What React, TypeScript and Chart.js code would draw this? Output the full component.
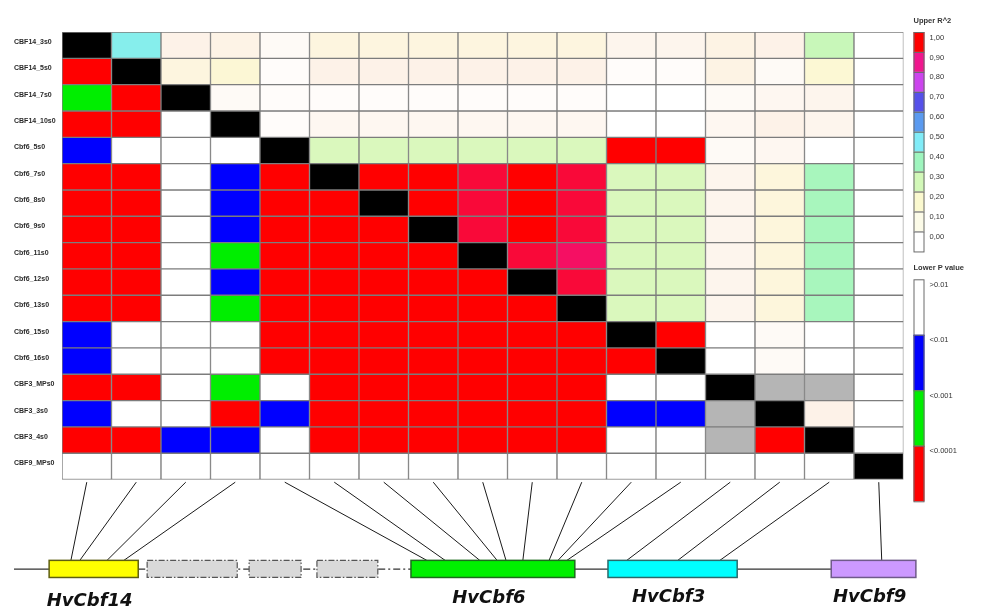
import React, { useEffect, useRef } from 'react';
import { Chart, registerables } from 'chart.js';

Chart.register(...registerables);

// ---------- DATA ----------
const MARKERS = [
  'CBF14_3s0', 'CBF14_5s0', 'CBF14_7s0', 'CBF14_10s0',
  'Cbf6_5s0', 'Cbf6_7s0', 'Cbf6_8s0', 'Cbf6_9s0', 'Cbf6_11s0', 'Cbf6_12s0', 'Cbf6_13s0', 'Cbf6_15s0', 'Cbf6_16s0',
  'CBF3_MPs0', 'CBF3_3s0', 'CBF3_4s0', 'CBF9_MPs0',
];

// Upper triangle: R^2 of row i with columns i+1 .. 16 (null = not available)
const R2_UPPER: (number | null)[][] = [
  [0.48, 0.05, 0.06, 0.02, 0.1, 0.1, 0.1, 0.1, 0.1, 0.1, 0.04, 0.04, 0.07, 0.05, 0.32, 0],
  [0.1, 0.16, 0.01, 0.05, 0.05, 0.05, 0.05, 0.05, 0.05, 0.01, 0.01, 0.07, 0.02, 0.17, 0],
  [0.02, 0.01, 0.01, 0.01, 0.01, 0.01, 0.01, 0.01, 0, 0, 0.02, 0.03, 0.04, 0],
  [0.01, 0.03, 0.03, 0.03, 0.03, 0.03, 0.03, 0, 0, 0.03, 0.05, 0.04, 0],
  [0.28, 0.28, 0.28, 0.28, 0.28, 0.28, 1, 1, 0.02, 0.03, 0, 0],
  [1, 1, 0.96, 1, 0.96, 0.28, 0.28, 0.04, 0.12, 0.38, 0],
  [1, 0.96, 1, 0.96, 0.28, 0.28, 0.04, 0.12, 0.38, 0],
  [0.96, 1, 0.96, 0.28, 0.28, 0.04, 0.12, 0.38, 0],
  [0.96, 0.93, 0.28, 0.28, 0.04, 0.12, 0.38, 0],
  [0.96, 0.28, 0.28, 0.04, 0.12, 0.38, 0],
  [0.28, 0.28, 0.04, 0.12, 0.38, 0],
  [1, 0, 0.02, 0, 0],
  [0, 0.02, 0, 0],
  [null, null, 0],
  [0.05, 0],
  [0],
  [],
];

// Lower triangle: P-value class of row i with columns 0 .. i-1
// 0 = >0.01, 1 = <0.01, 2 = <0.001, 3 = <0.0001, null = not available
const P_LOWER: (number | null)[][] = [
  [],
  [3],
  [2, 3],
  [3, 3, 0],
  [1, 0, 0, 0],
  [3, 3, 0, 1, 3],
  [3, 3, 0, 1, 3, 3],
  [3, 3, 0, 1, 3, 3, 3],
  [3, 3, 0, 2, 3, 3, 3, 3],
  [3, 3, 0, 1, 3, 3, 3, 3, 3],
  [3, 3, 0, 2, 3, 3, 3, 3, 3, 3],
  [1, 0, 0, 0, 3, 3, 3, 3, 3, 3, 3],
  [1, 0, 0, 0, 3, 3, 3, 3, 3, 3, 3, 3],
  [3, 3, 0, 2, 0, 3, 3, 3, 3, 3, 3, 0, 0],
  [1, 0, 0, 3, 1, 3, 3, 3, 3, 3, 3, 1, 1, null],
  [3, 3, 1, 1, 0, 3, 3, 3, 3, 3, 3, 0, 0, null, 3],
  [0, 0, 0, 0, 0, 0, 0, 0, 0, 0, 0, 0, 0, 0, 0, 0],
];

// R^2 colour ramp
const R2_STOPS = [0, 0.05, 0.1, 0.2, 0.3, 0.4, 0.5, 0.6, 0.7, 0.8, 0.9, 1];
const R2_STOP_COLORS = ['#ffffff', '#fdf2e8', '#fdf5df', '#fbf9cf', '#d2f8b8', '#9ef5be', '#80ecf8', '#5a9af0', '#5550ea', '#cc44ee', '#f0168e', '#ff0000'];

const R2_LEGEND_LABELS = ['1,00', '0,90', '0,80', '0,70', '0,60', '0,50', '0,40', '0,30', '0,20', '0,10', '0,00'];
const R2_LEGEND_COLORS = ['#ff0000', '#f0168e', '#cc44ee', '#5550ea', '#5a9af0', '#80ecf8', '#9ef5be', '#d2f8b8', '#fbf9cf', '#fcfbe8', '#ffffff'];

const P_LEGEND_LABELS = ['>0.01', '<0.01', '<0.001', '<0.0001'];
const P_COLORS = ['#ffffff', '#0000ff', '#00ee00', '#ff0000'];
const NA_COLOR = '#b5b5b5';
const DIAG_COLOR = '#000000';

// Gene diagram (positions in marker-axis units)
const GENE_NAMES = ['HvCbf14', 'HvCbf6', 'HvCbf3', 'HvCbf9'];
const GENE_START = [-0.76, 6.55, 10.53, 15.04];
const GENE_END = [1.04, 9.86, 13.14, 16.75];
const PSEUDO_START = [1.22, 3.28, 4.65];
const PSEUDO_END = [3.04, 4.33, 5.88];
const BACKBONE_START = -1.47;
// where each marker's connector meets its gene
const MARKER_POS = [-0.32, -0.14, 0.41, 0.75, 6.87, 7.24, 7.94, 8.29, 8.47, 8.81, 9.34, 9.52, 9.7, 10.91, 11.94, 12.79, 16.06];

// ---------- helpers ----------
function hexToRgb(h: string) {
  const n = parseInt(h.slice(1), 16);
  return [(n >> 16) & 255, (n >> 8) & 255, n & 255];
}
function r2Color(v: number) {
  for (let k = 1; k < R2_STOPS.length; k++) {
    if (v <= R2_STOPS[k]) {
      const t = (v - R2_STOPS[k - 1]) / (R2_STOPS[k] - R2_STOPS[k - 1]);
      const a = hexToRgb(R2_STOP_COLORS[k - 1]);
      const b = hexToRgb(R2_STOP_COLORS[k]);
      const c = a.map((x, i) => Math.round(x + (b[i] - x) * t));
      return `rgb(${c[0]},${c[1]},${c[2]})`;
    }
  }
  return R2_STOP_COLORS[R2_STOP_COLORS.length - 1];
}
function cellColor(r: number, c: number) {
  if (r === c) return DIAG_COLOR;
  if (c > r) {
    const v = R2_UPPER[r][c - r - 1];
    return v === null || v === undefined ? NA_COLOR : r2Color(v);
  }
  const p = P_LOWER[r][c];
  return p === null || p === undefined ? NA_COLOR : P_COLORS[p];
}

const N = MARKERS.length;
const Y_MAX = 21.72;
const LINK_TOP = N + 0.1;
const BOX_TOP = 20.07;
const BOX_BOTTOM = 20.72;
const BACKBONE_Y = 20.4;

const genePlugin = {
  id: 'geneDiagram',
  afterDatasetsDraw(chart: any) {
    const { ctx } = chart;
    const xs = chart.scales.x;
    const ys = chart.scales.y;
    const X = (v: number) => xs.getPixelForValue(v);
    const Y = (v: number) => ys.getPixelForValue(v);
    ctx.save();
    // backbone solid
    ctx.strokeStyle = '#333333';
    ctx.lineWidth = 1.2;
    ctx.beginPath();
    ctx.moveTo(X(BACKBONE_START), Y(BACKBONE_Y));
    ctx.lineTo(X(GENE_START[0]), Y(BACKBONE_Y));
    ctx.moveTo(X(GENE_END[1]), Y(BACKBONE_Y));
    ctx.lineTo(X(GENE_END[3]), Y(BACKBONE_Y));
    ctx.stroke();
    // backbone dash-dot region
    ctx.setLineDash([7, 3, 2, 3]);
    ctx.beginPath();
    ctx.moveTo(X(GENE_END[0]), Y(BACKBONE_Y));
    ctx.lineTo(X(GENE_START[1]), Y(BACKBONE_Y));
    ctx.stroke();
    ctx.setLineDash([]);

    // connectors
    ctx.strokeStyle = '#1a1a1a';
    ctx.lineWidth = 1;
    for (let i = 0; i < N; i++) {
      ctx.beginPath();
      ctx.moveTo(X(i), Y(LINK_TOP));
      ctx.lineTo(X(MARKER_POS[i]), Y(BOX_TOP));
      ctx.stroke();
    }

    // pseudo (grey dashed) boxes
    for (let k = 0; k < PSEUDO_START.length; k++) {
      const x0 = X(PSEUDO_START[k]);
      const x1 = X(PSEUDO_END[k]);
      const y0 = Y(BOX_TOP);
      const y1 = Y(BOX_BOTTOM);
      ctx.fillStyle = '#d9d9d9';
      ctx.fillRect(x0, y0, x1 - x0, y1 - y0);
      ctx.strokeStyle = '#555555';
      ctx.lineWidth = 1.2;
      ctx.setLineDash([6, 2, 1.5, 2]);
      ctx.strokeRect(x0, y0, x1 - x0, y1 - y0);
      ctx.setLineDash([]);
    }

    // genes
    const fills = ['#ffff00', '#00f000', '#00ffff', '#cc99ff'];
    const strokes = ['#5f5f10', '#1d6b1d', '#2a6a6a', '#6f5a8a'];
    const labelDy = [24, 21, 20, 20];
    for (let g = 0; g < GENE_NAMES.length; g++) {
      const x0 = X(GENE_START[g]);
      const x1 = X(GENE_END[g]);
      const y0 = Y(BOX_TOP);
      const y1 = Y(BOX_BOTTOM);
      ctx.fillStyle = fills[g];
      ctx.fillRect(x0, y0, x1 - x0, y1 - y0);
      ctx.strokeStyle = strokes[g];
      ctx.lineWidth = 1.5;
      ctx.strokeRect(x0, y0, x1 - x0, y1 - y0);
      ctx.fillStyle = '#111111';
      ctx.font = 'italic bold 18px "DejaVu Sans"';
      ctx.textAlign = 'center';
      ctx.textBaseline = 'middle';
      ctx.fillText(GENE_NAMES[g], (x0 + x1) / 2 - 4, y1 + labelDy[g]);
    }
    ctx.restore();
  },
};

const legendPlugin = {
  id: 'ldLegend',
  afterDraw(chart: any) {
    const { ctx, chartArea } = chart;
    const lx = chartArea.right + 10;
    const w = 11;
    ctx.save();
    ctx.textBaseline = 'middle';
    ctx.textAlign = 'left';
    ctx.fillStyle = '#333333';
    ctx.font = 'bold 7.5px "Liberation Sans"';
    ctx.fillText('Upper R^2', lx, chartArea.top - 11);
    const top1 = chartArea.top;
    const h1 = 19.95;
    ctx.font = '7.5px "Liberation Sans"';
    R2_LEGEND_COLORS.forEach((c, k) => {
      const y = top1 + k * h1;
      ctx.fillStyle = c;
      ctx.fillRect(lx, y, w, h1);
      ctx.strokeStyle = '#6a6a6a';
      ctx.lineWidth = 1;
      ctx.strokeRect(lx + 0.5, y + 0.5, w - 1, h1);
      ctx.fillStyle = '#333333';
      ctx.fillText(R2_LEGEND_LABELS[k], lx + 16, y + 5.5);
    });

    ctx.font = 'bold 7.5px "Liberation Sans"';
    ctx.fillStyle = '#333333';
    ctx.fillText('Lower P value', lx, 268);
    const top2 = 279.3;
    const h2 = 55.5;
    ctx.font = '7.5px "Liberation Sans"';
    P_COLORS.forEach((c, k) => {
      const y = top2 + k * h2;
      ctx.fillStyle = c;
      ctx.fillRect(lx, y, w, h2);
      ctx.strokeStyle = '#6a6a6a';
      ctx.lineWidth = 1;
      ctx.strokeRect(lx + 0.5, y + 0.5, w - 1, h2);
      ctx.fillStyle = '#333333';
      ctx.fillText(P_LEGEND_LABELS[k], lx + 16, y + 5.5);
    });
    ctx.restore();
  },
};

export default function App() {
  const ref = useRef<HTMLCanvasElement | null>(null);
  useEffect(() => {
    if (!ref.current) return;
    const datasets = MARKERS.map((name, r) => ({
      label: name,
      data: MARKERS.map(() => [r, r + 1]),
      backgroundColor: MARKERS.map((_, c) => cellColor(r, c)),
      borderColor: '#7d7d7d',
      borderWidth: 1,
      borderSkipped: false as const,
      grouped: false,
      barPercentage: 1,
      categoryPercentage: 1,
    }));
    const chart = new Chart(ref.current, {
      type: 'bar',
      data: { labels: MARKERS, datasets: datasets as any },
      options: {
        responsive: false,
        animation: false,
        events: [],
        layout: { padding: { left: 14, top: 32, right: 80.5, bottom: 0 } },
        plugins: { legend: { display: false }, tooltip: { enabled: false } },
        scales: {
          x: { type: 'category', display: false, offset: true, grid: { display: false } },
          y: {
            type: 'linear',
            min: 0,
            max: Y_MAX,
            reverse: true,
            grid: { display: false },
            border: { display: false },
            afterFit: (s: any) => { s.width = 48; },
            afterBuildTicks: (s: any) => { s.ticks = MARKERS.map((_, i) => ({ value: i + 0.38 })); },
            ticks: {
              autoSkip: false,
              crossAlign: 'far',
              color: '#2a2a2a',
              font: { size: 7, weight: 'bold', family: '"Liberation Sans"' },
              callback: (v: any) => MARKERS[Math.floor(Number(v))] ?? '',
            },
          },
        },
      },
      plugins: [genePlugin, legendPlugin],
    });
    return () => chart.destroy();
  }, []);
  return (
    <div style={{ position: 'absolute', left: 0, top: 0, width: 984, height: 611, background: '#ffffff' }}>
      <canvas ref={ref} width={984} height={611} />
    </div>
  );
}
